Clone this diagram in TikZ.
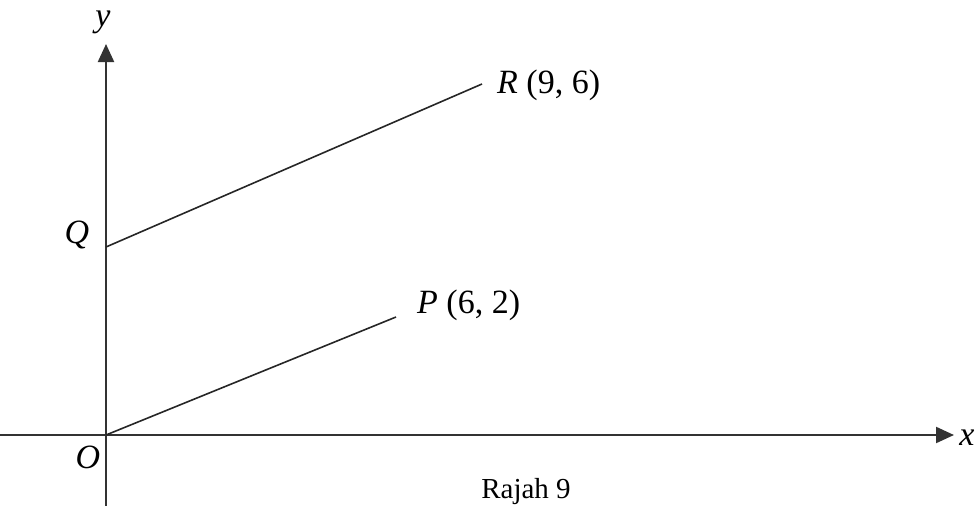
\documentclass[tikz,border=0pt]{standalone}
\usepackage{fontspec}
\setmainfont{Liberation Serif}
\usetikzlibrary{arrows.meta}
\begin{document}
\begin{tikzpicture}[x=1pt,y=-1pt,
  axis/.style={line width=2.2pt,draw=black!80,-{Triangle[length=18pt,width=16pt]}},
  seg/.style={line width=1.6pt,draw=black!85},
  lbl/.style={font=\fontsize{34}{38}\selectfont,inner sep=0pt}]
\useasboundingbox (0,0) rectangle (978,506);
\coordinate (O) at (106,435);
\coordinate (xs) at (0,435);
\coordinate (xe) at (954,435);
\coordinate (ys) at (106,506);
\coordinate (ye) at (106,44);
\coordinate (Q) at (106,247);
\coordinate (R) at (482,84);
\coordinate (P) at (396,317);
\draw[axis] (xs) -- (xe);
\draw[axis] (ys) -- (ye);
\draw[seg] (Q) -- (R);
\draw[seg] (O) -- (P);
\node[lbl] (ylab) at (103,22) {\itshape y};
\node[lbl] (xlab) at (967,438) {\itshape x};
\node[lbl] (olab) at (88,457) {\itshape O};
\node[lbl] (qlab) at (77,235) {\itshape Q};
\node[lbl,anchor=base west] (rlab) at (497,93) {\textit{R} (9, 6)};
\node[lbl,anchor=base west] (plab) at (417,313) {\textit{P} (6, 2)};
\node[lbl,anchor=base,font=\fontsize{29}{32}\selectfont] (cap) at (526,498) {Rajah 9};
\end{tikzpicture}
\end{document}
